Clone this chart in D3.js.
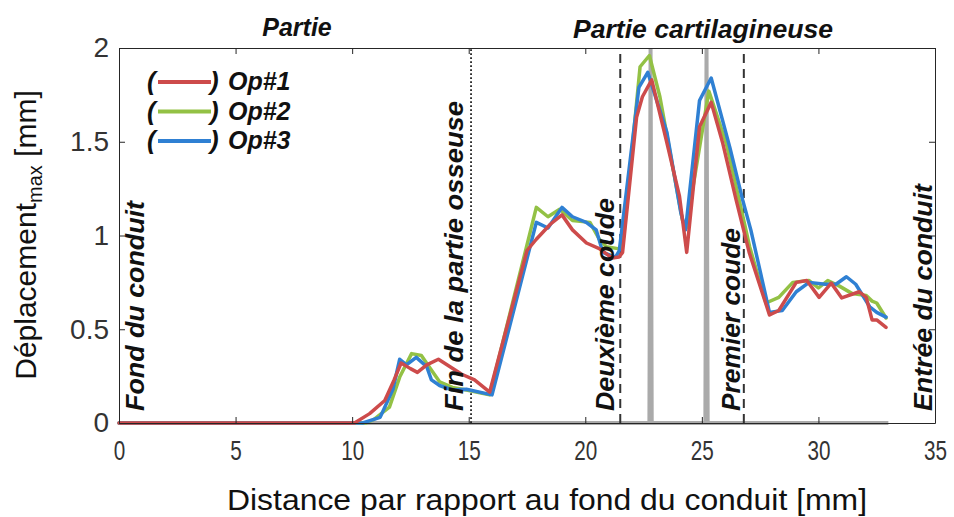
<!DOCTYPE html>
<html>
<head>
<meta charset="utf-8">
<script src="https://cdn.jsdelivr.net/npm/d3@7"></script>
<style>
  body { margin: 0; background: #fff; }
  svg { font-family: "Liberation Sans", Arial, sans-serif; }
</style>
</head>
<body>
<script>
const width = 954;
const height = 517;

// Op#1 (red)
const op1X = [0, 10.1, 10.75, 11.4, 11.8, 12.1, 12.5, 12.8, 13.2, 13.7, 14.2, 14.7, 15.25, 15.9, 17.5, 17.9, 18.5, 19.0, 19.45, 20.05, 20.6, 21.15, 21.45, 21.6, 22.2, 22.45, 22.85, 23.47, 24.04, 24.35, 24.9, 25.4, 25.9, 26.47, 27.03, 27.9, 28.3, 29.05, 29.5, 30.03, 30.55, 31.0, 31.75, 32.05, 32.3, 32.5, 32.9];
const op1Y = [0, 0, 0.05, 0.12, 0.23, 0.32, 0.29, 0.27, 0.31, 0.34, 0.30, 0.26, 0.23, 0.165, 0.92, 0.98, 1.06, 1.11, 1.03, 0.96, 0.93, 0.88, 0.885, 0.91, 1.63, 1.74, 1.83, 1.51, 1.21, 0.91, 1.58, 1.71, 1.49, 1.19, 0.91, 0.576, 0.60, 0.75, 0.76, 0.67, 0.746, 0.667, 0.70, 0.67, 0.55, 0.55, 0.51];

// Op#2 (green)
const op2X = [0, 10.6, 10.9, 11.6, 12.04, 12.55, 12.97, 13.3, 13.75, 14.3, 14.9, 15.9, 17.9, 18.4, 18.9, 19.45, 20.2, 20.6, 20.9, 21.4, 21.55, 21.65, 22.35, 22.75, 23.2, 24.17, 24.33, 25.3, 26.05, 26.6, 27.05, 27.75, 28.3, 28.9, 29.6, 30.0, 30.4, 30.9, 31.45, 32.05, 32.3, 32.5, 32.9];
const op2Y = [0, 0, 0.016, 0.085, 0.245, 0.37, 0.36, 0.30, 0.22, 0.19, 0.176, 0.15, 1.15, 1.10, 1.14, 1.08, 1.07, 0.98, 0.94, 0.93, 0.93, 1.0, 1.90, 1.96, 1.74, 1.08, 1.04, 1.77, 1.49, 1.19, 0.94, 0.64, 0.67, 0.75, 0.76, 0.72, 0.76, 0.73, 0.69, 0.68, 0.65, 0.64, 0.56];

// Op#3 (blue)
const op3X = [0, 10.45, 11.2, 11.75, 12.04, 12.33, 12.75, 13.2, 13.4, 13.75, 14.3, 14.9, 16.0, 17.9, 18.4, 19.0, 19.45, 20.04, 20.47, 20.75, 21.3, 21.46, 22.3, 22.68, 23.5, 24.1, 24.3, 24.9, 25.4, 26.2, 26.75, 27.1, 27.9, 28.45, 29.05, 29.6, 30.3, 30.75, 31.2, 31.6, 32.2, 32.5, 32.9];
const op3Y = [0, 0, 0.03, 0.18, 0.34, 0.31, 0.35, 0.30, 0.23, 0.20, 0.176, 0.18, 0.15, 1.07, 1.04, 1.15, 1.10, 1.07, 1.03, 0.91, 0.885, 0.92, 1.79, 1.87, 1.55, 1.12, 1.03, 1.72, 1.84, 1.47, 1.19, 1.03, 0.59, 0.60, 0.70, 0.75, 0.74, 0.74, 0.78, 0.74, 0.62, 0.59, 0.565];

// grey reference trace (baseline with two spikes)
const refX = [10.4, 22.75, 22.8, 22.85, 25.15, 25.2, 25.25, 33.0];
const refY = [0, 0, 2, 0, 0, 2, 0, 0];

const seriesNames = ['Op#1', 'Op#2', 'Op#3'];
const seriesColors = ['#cd4b4b', '#93c145', '#2f80d3'];

const xTicks = [0, 5, 10, 15, 20, 25, 30, 35];
const yTicks = [0, 0.5, 1, 1.5, 2];

const dashedX = [21.5, 26.8];
const dottedX = [15.1];

const sideLabels = ['Fond du conduit', 'Fin de la partie osseuse', 'Deuxième coude', 'Premier coude', 'Entrée du conduit'];
const sideLabelX = [1.2, 14.9, 21.35, 26.75, 35.0];
const sideLabelLen = [210, 310, 213, 183, 227];

const margin = { top: 48, right: 19, bottom: 94, left: 119 };

const x = d3.scaleLinear()
    .domain([0, 35])
    .range([margin.left, width - margin.right]);

const y = d3.scaleLinear()
    .domain([0, 2])
    .range([height - margin.bottom, margin.top]);

const svg = d3.select('body')
    .append('svg')
    .attr('width', width)
    .attr('height', height);

const line = d3.line()
    .x(d => x(d[0]))
    .y(d => y(d[1]));

// reference trace
svg.append('path')
    .datum(d3.zip(refX, refY))
    .attr('d', line)
    .attr('fill', 'none')
    .attr('stroke', '#aaaaaa')
    .attr('stroke-width', 4);

// vertical markers
svg.selectAll('.dashed')
    .data(dashedX)
    .join('line')
    .attr('x1', d => x(d))
    .attr('x2', d => x(d))
    .attr('y1', y(0))
    .attr('y2', y(2))
    .attr('stroke', '#333')
    .attr('stroke-width', 2)
    .attr('stroke-dasharray', '9,6');

svg.selectAll('.dotted')
    .data(dottedX)
    .join('line')
    .attr('x1', d => x(d))
    .attr('x2', d => x(d))
    .attr('y1', y(0))
    .attr('y2', y(2))
    .attr('stroke', '#222')
    .attr('stroke-width', 1.8)
    .attr('stroke-dasharray', '1.8,2.2');

// curves
const series = [
    { name: seriesNames[1], color: seriesColors[1], pts: d3.zip(op2X, op2Y) },
    { name: seriesNames[2], color: seriesColors[2], pts: d3.zip(op3X, op3Y) },
    { name: seriesNames[0], color: seriesColors[0], pts: d3.zip(op1X, op1Y) }
];

svg.selectAll('.curve')
    .data(series)
    .join('path')
    .attr('class', 'curve')
    .attr('d', d => line(d.pts))
    .attr('fill', 'none')
    .attr('stroke', d => d.color)
    .attr('stroke-width', 3.5)
    .attr('stroke-linejoin', 'round')
    .attr('stroke-linecap', 'round');

// axes
const xAxis = svg.append('g')
    .attr('transform', `translate(0,${y(0)})`)
    .call(d3.axisBottom(x).tickValues(xTicks).tickSizeInner(-6).tickSizeOuter(0).tickPadding(17));

xAxis.selectAll('text')
    .attr('font-size', 28)
    .attr('fill', '#333')
    .attr('transform', 'scale(0.74,1)');

const yAxis = svg.append('g')
    .attr('transform', `translate(${margin.left},0)`)
    .call(d3.axisLeft(y).tickValues(yTicks).tickFormat(d3.format('')).tickSizeInner(-6).tickSizeOuter(0).tickPadding(10));

yAxis.selectAll('text')
    .attr('font-size', 28)
    .attr('fill', '#333');

svg.append('g')
    .attr('transform', `translate(0,${y(2)})`)
    .call(d3.axisTop(x).tickValues(xTicks).tickSizeInner(-6).tickSizeOuter(0).tickFormat(''));

svg.append('g')
    .attr('transform', `translate(${x(35)},0)`)
    .call(d3.axisRight(y).tickValues(yTicks).tickSizeInner(-6).tickSizeOuter(0).tickFormat(''));

svg.selectAll('.domain').attr('stroke', '#262626');
svg.selectAll('.tick line').attr('stroke', '#262626');

// axis titles
svg.append('text')
    .attr('x', (x(0) + x(35)) / 2 + 20)
    .attr('y', 510)
    .attr('text-anchor', 'middle')
    .attr('font-size', 30)
    .attr('fill', '#111')
    .attr('textLength', 640)
    .attr('lengthAdjust', 'spacingAndGlyphs')
    .text('Distance par rapport au fond du conduit [mm]');

const yTitle = svg.append('text')
    .attr('transform', 'translate(36,235) rotate(-90)')
    .attr('text-anchor', 'middle')
    .attr('font-size', 30)
    .attr('fill', '#111');
yTitle.append('tspan').text('Déplacement');
yTitle.append('tspan').attr('font-size', 20).attr('dy', 6).text('max');
yTitle.append('tspan').attr('dy', -6).text(' [mm]');

// region titles
svg.append('text')
    .attr('x', 297)
    .attr('y', 36)
    .attr('text-anchor', 'middle')
    .attr('font-size', 25)
    .attr('font-weight', 'bold')
    .attr('font-style', 'italic')
    .attr('fill', '#111')
    .text('Partie');

svg.append('text')
    .attr('x', 703)
    .attr('y', 38)
    .attr('text-anchor', 'middle')
    .attr('font-size', 25)
    .attr('font-weight', 'bold')
    .attr('font-style', 'italic')
    .attr('fill', '#111')
    .attr('textLength', 260)
    .attr('lengthAdjust', 'spacingAndGlyphs')
    .text('Partie cartilagineuse');

// rotated landmark labels
sideLabels.forEach((label, i) => {
    svg.append('text')
        .attr('transform', `translate(${x(sideLabelX[i]) - 3},${y(0) - 12}) rotate(-90)`)
        .attr('font-size', 26)
        .attr('font-weight', 'bold')
        .attr('font-style', 'italic')
        .attr('fill', '#111')
        .attr('textLength', sideLabelLen[i])
        .attr('lengthAdjust', 'spacingAndGlyphs')
        .text(label);
});

// legend
const legend = svg.append('g');
const legendOrder = [0, 1, 2];
legendOrder.forEach((k, i) => {
    const ly = 82 + i * 29.5;
    const row = legend.append('g');
    row.append('text')
        .attr('x', 147)
        .attr('y', ly + 8)
        .attr('font-size', 26)
        .attr('font-weight', 'bold')
        .attr('font-style', 'italic')
        .attr('fill', '#111')
        .text('(');
    row.append('line')
        .attr('x1', 158)
        .attr('x2', 211)
        .attr('y1', ly)
        .attr('y2', ly)
        .attr('stroke', seriesColors[k])
        .attr('stroke-width', 4);
    row.append('text')
        .attr('x', 210)
        .attr('y', ly + 8)
        .attr('font-size', 26)
        .attr('font-weight', 'bold')
        .attr('font-style', 'italic')
        .attr('fill', '#111')
        .text(')');
    row.append('text')
        .attr('x', 228)
        .attr('y', ly + 8)
        .attr('font-size', 25)
        .attr('font-weight', 'bold')
        .attr('font-style', 'italic')
        .attr('fill', '#111')
        .text(seriesNames[k]);
});
</script>
</body>
</html>
